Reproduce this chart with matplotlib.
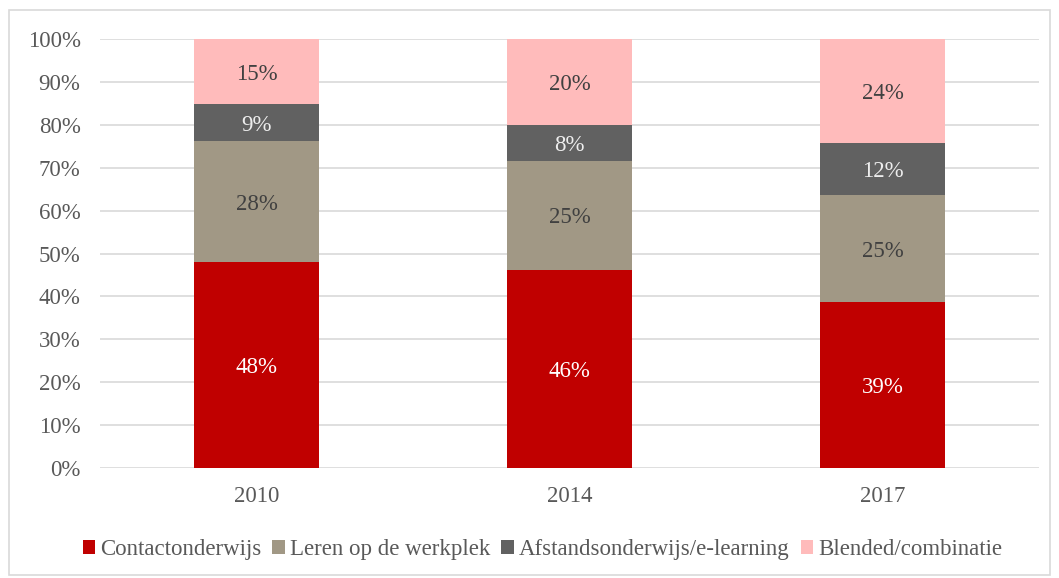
import numpy as np
import matplotlib.pyplot as plt
from matplotlib.patches import Rectangle

plt.rcParams['font.family'] = ['Liberation Serif', 'DejaVu Serif']

years = ['2010', '2014', '2017']
series = ['Contactonderwijs', 'Leren op de werkplek',
          'Afstandsonderwijs/e-learning', 'Blended/combinatie']
contact = [48.0, 46.2, 38.7]
werkplek = [28.2, 25.4, 24.9]
afstand = [8.6, 8.4, 12.2]
blended = [15.2, 20.0, 24.2]

colors = ['#C00000', '#A19885', '#616161', '#FFBBBB']
text_colors = ['white', '#404040', '#EDEDED', '#404040']
fs = 16.5

fig = plt.figure(figsize=(10.59, 5.78), dpi=100)
ax = fig.add_axes([100/1059, 1 - 468/578, 939/1059, 429/578])

# grijze rand om de figuur
fig.patches.append(Rectangle((9/1059, 3/578), 1041/1059, 565/578, transform=fig.transFigure,
                             fill=False, edgecolor='#D9D9D9', linewidth=1.2))

x = np.arange(len(years))
bottom = np.zeros(len(years))
for vals, name, c, tc in zip([contact, werkplek, afstand, blended], series, colors, text_colors):
    vals = np.array(vals)
    ax.bar(x, vals, 0.4, bottom=bottom, color=c, label=name, zorder=2)
    for xi, b, v in zip(x, bottom, vals):
        ax.text(xi, b + v / 2, f"{v:.0f}%", ha='center', va='center_baseline', color=tc, fontsize=fs)
    bottom += vals

ax.set_xlim(-0.5, 2.5)
ax.set_ylim(0, 100)
ax.set_yticks(np.arange(0, 101, 10))
ax.set_yticklabels([f"{t}%" for t in range(0, 101, 10)])
ax.set_xticks(x)
ax.set_xticklabels(years)
ax.tick_params(length=0, labelsize=fs, labelcolor='#595959')
ax.tick_params(axis='y', pad=14)
ax.tick_params(axis='x', pad=13)
ax.yaxis.grid(True, color='#D9D9D9', linewidth=1.2, zorder=0)
for s in ax.spines.values():
    s.set_visible(False)

ax.legend(loc='center', bbox_to_anchor=(0.471, -0.19), ncol=4, frameon=False, fontsize=fs,
          handlelength=0.55, handleheight=0.55, handletextpad=0.2, columnspacing=0.5,
          labelcolor='#595959')

fig.savefig('out.png', dpi=100)
